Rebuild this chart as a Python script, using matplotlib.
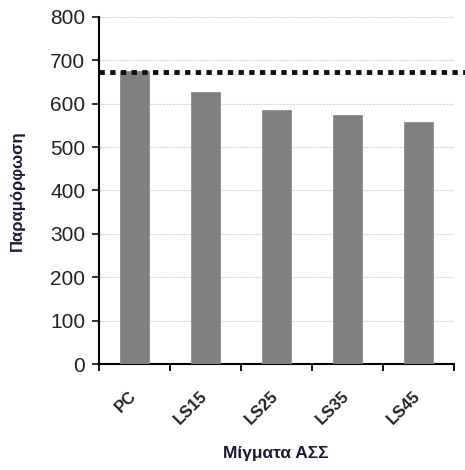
import matplotlib.pyplot as plt
import numpy as np

plt.rcParams['font.family'] = ['Liberation Sans', 'DejaVu Sans']

# data
mixes = ['PC', 'LS15', 'LS25', 'LS35', 'LS45']
deform = [675, 627, 585, 574, 557]
ref_line = 672
yticks = [0, 100, 200, 300, 400, 500, 600, 700, 800]

fig = plt.figure(figsize=(4.65, 4.70), dpi=100)
ax = fig.add_axes([0.213, 0.2255, 0.763, 0.7385])

x = np.arange(len(mixes))
ax.bar(x, deform, width=0.4, color='#808080', edgecolor='#8c8c8c', linewidth=0.6, zorder=3)

# dotted reference line, runs past the right end of the axes
ax.axhline(ref_line, xmin=0, xmax=1.04, color='#111111', linewidth=3.5,
           linestyle=(0, (1.1, 1.1)), clip_on=False, zorder=4)

ax.set_xlim(-0.5, len(mixes) - 0.5)
ax.set_ylim(0, 800)
ax.set_yticks(yticks)
ax.yaxis.grid(True, color='#d4d4d4', linestyle=(0, (2, 1)), linewidth=0.8, zorder=0)
ax.tick_params(axis='y', labelsize=15, length=5, width=1.3, colors='#222222', pad=5)

ax.set_xticks(np.arange(len(mixes) + 1) - 0.5)
ax.set_xticklabels([])
ax.tick_params(axis='x', length=5, width=1.3)
for i, m in enumerate(mixes):
    ax.text(i - 0.08, -55, m, rotation=45, ha='right', va='top', fontsize=12,
            fontweight='bold', color='#222222', rotation_mode='anchor',
            transform=ax.transData)

for s in ['top', 'right']:
    ax.spines[s].set_visible(False)
ax.spines['left'].set_linewidth(1.5)
ax.spines['bottom'].set_linewidth(1.5)

ax.set_ylabel('Παραμόρφωση', fontsize=12, fontweight='bold', color='#1a1a33')
ax.yaxis.set_label_coords(-0.21, 0.5)
fig.text(0.594, 0.036, 'Μίγματα ΑΣΣ', ha='center', va='center', fontsize=12.5,
         fontweight='bold', color='#1a1a33')

plt.savefig('out.png', dpi=100)
